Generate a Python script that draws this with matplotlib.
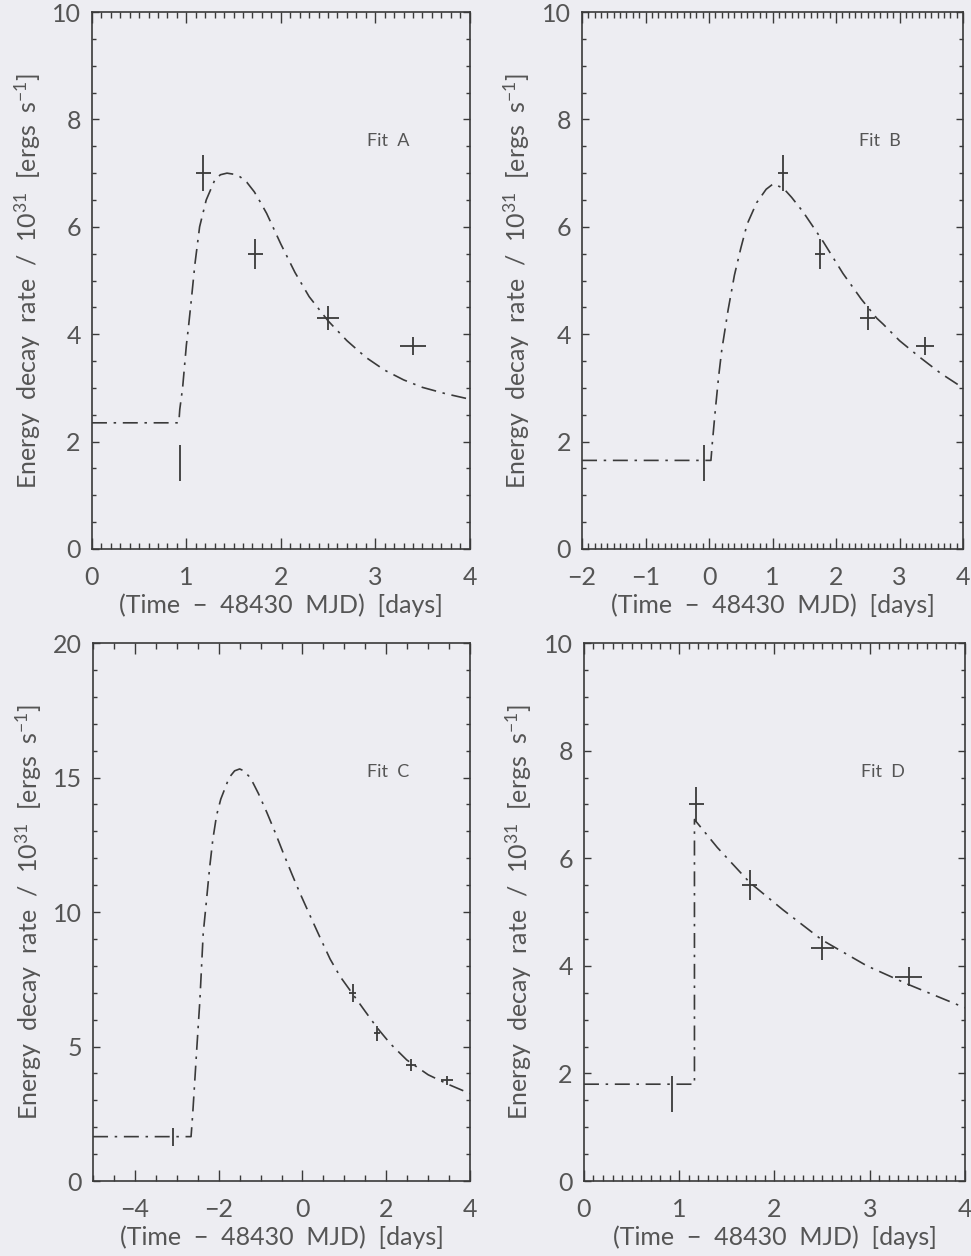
import numpy as np
import matplotlib
matplotlib.use("Agg")
import matplotlib.pyplot as plt
from matplotlib.ticker import MultipleLocator

# measured points (same five observations in every panel, time-shifted per fit)
pts_y = [1.6, 7.0, 5.5, 4.3, 3.78]
pts_xerr = [0.0, 0.08, 0.08, 0.12, 0.14]
pts_yerr = [0.33, 0.33, 0.28, 0.22, 0.17]

ptsA_x = [0.93, 1.18, 1.73, 2.5, 3.4]
ptsB_x = [-0.08, 1.17, 1.75, 2.5, 3.4]
ptsC_x = [-3.1, 1.2, 1.78, 2.6, 3.45]
ptsC_y = [1.63, 7.0, 5.5, 4.3, 3.75]
ptsD_x = [0.92, 1.18, 1.74, 2.5, 3.41]
ptsD_y = [1.62, 7.0, 5.5, 4.33, 3.8]

# fit curves
fitA_x = [0.0, 0.92, 0.93, 0.96, 1.0, 1.02, 1.05, 1.09, 1.14, 1.21, 1.3, 1.36,
          1.43, 1.5, 1.57, 1.64, 1.72, 1.78, 1.85, 2.0, 2.15, 2.3, 2.5, 2.7,
          2.9, 3.1, 3.3, 3.5, 3.75, 4.0]
fitA_y = [2.35, 2.35, 2.6, 3.0, 3.8, 4.1, 4.6, 5.3, 6.0, 6.5, 6.87, 6.97,
          7.0, 6.98, 6.93, 6.83, 6.65, 6.47, 6.25, 5.68, 5.15, 4.7, 4.25, 3.88,
          3.57, 3.33, 3.15, 3.01, 2.89, 2.79]

fitB_x = [-2.0, 0.03, 0.05, 0.1, 0.15, 0.2, 0.3, 0.4, 0.5, 0.6, 0.75, 0.9, 1.01,
          1.17, 1.3, 1.48, 1.64, 1.8, 2.11, 2.4, 2.64, 2.74, 3.0, 3.32, 3.65, 4.0]
fitB_y = [1.65, 1.65, 1.95, 2.6, 3.2, 3.7, 4.45, 5.1, 5.6, 6.05, 6.45, 6.7, 6.8,
          6.72, 6.55, 6.28, 6.0, 5.72, 5.13, 4.65, 4.3, 4.19, 3.88, 3.57, 3.27, 3.0]

fitC_x = [-5.0, -2.66, -2.62, -2.52, -2.45, -2.37, -2.3, -2.22, -2.14, -2.05,
          -1.95, -1.85, -1.75, -1.62, -1.5, -1.4, -1.28, -1.18, -1.05, -0.85,
          -0.65, -0.46, -0.25, -0.06, 0.2, 0.42, 0.66, 0.9, 1.2, 1.5, 1.78,
          2.1, 2.49, 3.0, 3.47, 4.0]
fitC_y = [1.65, 1.65, 2.5, 5.0, 6.7, 9.2, 10.3, 11.6, 12.7, 13.6,
          14.2, 14.6, 15.0, 15.25, 15.32, 15.25, 15.05, 14.8, 14.4, 13.7,
          12.95, 12.2, 11.4, 10.7, 9.8, 9.05, 8.25, 7.6, 6.95, 6.3, 5.7,
          5.1, 4.5, 3.95, 3.6, 3.25]

fitD_x = [0.0, 1.16, 1.16, 1.4, 1.74, 2.09, 2.5, 2.97, 3.41, 4.0]
fitD_y = [1.8, 1.8, 6.72, 6.2, 5.55, 5.04, 4.48, 4.0, 3.65, 3.22]

bg = '#ededf2'
ink = '#3a3a3a'
txt = '#555555'

plt.rcParams['font.family'] = ['Lato', 'DejaVu Sans']
plt.rcParams['font.weight'] = 'normal'
plt.rcParams['mathtext.fontset'] = 'custom'
plt.rcParams['mathtext.rm'] = 'Lato'
plt.rcParams['mathtext.it'] = 'Lato'

fig = plt.figure(figsize=(9.71, 12.56), dpi=100)
fig.patch.set_facecolor(bg)

panels = [
    # rect, xlim, ylim, xmaj, xmin, ymaj, ymin, pts_x, pts_y, fit_x, fit_y, label
    ([0.0947, 0.5629, 0.389, 0.4275], (0, 4), (0, 10), 1, 0.1, 2, 0.5,
     ptsA_x, pts_y, fitA_x, fitA_y, 'Fit  A'),
    ([0.5994, 0.5629, 0.3924, 0.4275], (-2, 4), (0, 10), 1, 0.1, 2, 0.5,
     ptsB_x, pts_y, fitB_x, fitB_y, 'Fit  B'),
    ([0.0958, 0.0597, 0.3883, 0.4283], (-5, 4), (0, 20), 2, 0.5, 5, 1,
     ptsC_x, ptsC_y, fitC_x, fitC_y, 'Fit  C'),
    ([0.6014, 0.0597, 0.3924, 0.4283], (0, 4), (0, 10), 1, 0.1, 2, 0.5,
     ptsD_x, ptsD_y, fitD_x, fitD_y, 'Fit  D'),
]

for rect, xlim, ylim, xmaj, xmin, ymaj, ymin, px, py, fx, fy, lab in panels:
    ax = fig.add_axes(rect)
    ax.set_facecolor(bg)

    ax.plot(fx, fy, color=ink, lw=1.2, linestyle=(0, (9, 4, 1.5, 4)))
    ax.errorbar(px, py, xerr=pts_xerr, yerr=pts_yerr, fmt='none',
                ecolor=ink, elinewidth=1.3, capsize=0)

    ax.set_xlim(*xlim)
    ax.set_ylim(*ylim)
    ax.xaxis.set_major_locator(MultipleLocator(xmaj))
    ax.xaxis.set_minor_locator(MultipleLocator(xmin))
    ax.yaxis.set_major_locator(MultipleLocator(ymaj))
    ax.yaxis.set_minor_locator(MultipleLocator(ymin))

    ax.tick_params(axis='both', which='both', direction='in', top=True,
                   right=True, color=ink, width=1.0, labelcolor=txt,
                   labelsize=18)
    ax.tick_params(axis='x', which='major', length=8, pad=12)
    ax.tick_params(axis='x', which='minor', length=4)
    ax.tick_params(axis='y', which='major', length=5, pad=8)
    ax.tick_params(axis='y', which='minor', length=3)

    for s in ax.spines.values():
        s.set_color(ink)
        s.set_linewidth(1.2)

    ax.set_xlabel('(Time  \u2212  48430  MJD)  [days]', fontsize=18, color=txt)
    ax.set_ylabel('Energy  decay  rate  /  10$^{31}$  [ergs  s$^{-1}$]',
                  fontsize=18, color=txt)
    ax.xaxis.set_label_coords(0.5, -0.104)
    ax.xaxis.label.set_va('center')
    ax.yaxis.set_label_coords(-0.17, 0.5)
    ax.yaxis.label.set_va('center')

    ax.text(0.727, 0.76, lab, transform=ax.transAxes, fontsize=13,
            color=txt, ha='left', va='center')

fig.savefig('out.png', dpi=100, facecolor=bg)
